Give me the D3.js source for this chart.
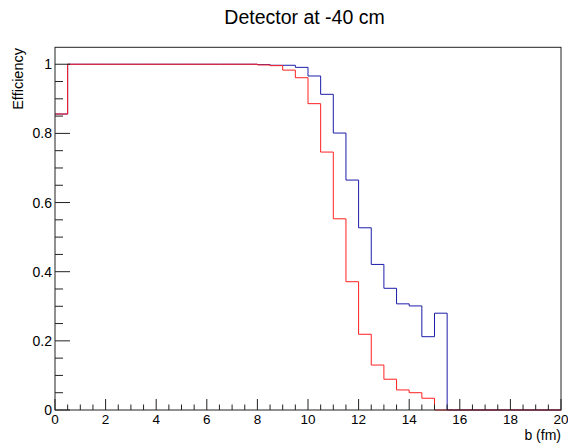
<!DOCTYPE html>
<html><head><meta charset="utf-8">
<script src="https://cdn.jsdelivr.net/npm/d3@7"></script>
<style>body{margin:0;background:#fff}svg{display:block}text{font-family:"Liberation Sans",Arial,sans-serif;fill:#000}</style>
</head><body>
<script>
// bin edges: 0..20 in steps of 0.5
const binLow = d3.range(0, 20, 0.5);
const blueVals = [0.856,1,1,1,1,1,1,1,1,1,1,1,1,1,1,1,0.999,0.997,0.997,0.991,0.966,0.913,0.801,0.665,0.527,0.421,0.352,0.307,0.301,0.212,0.280,0,0,0,0,0,0,0,0,0];
const redVals  = [0.856,1,1,1,1,1,1,1,1,1,1,1,1,1,1,1,0.998,0.996,0.983,0.961,0.886,0.746,0.553,0.371,0.219,0.130,0.089,0.058,0.050,0.034,0,0,0,0,0,0,0,0,0,0];
const xTicks = [0,2,4,6,8,10,12,14,16,18,20];
const yTicks = [0,0.2,0.4,0.6,0.8,1];
const title = "Detector at -40 cm";

const W=568,H=443;
const svg=d3.select("body").append("svg").attr("width",W).attr("height",H);
const L=55,R=561,T=47.3,B=410;
const x=d3.scaleLinear().domain([0,20]).range([L,R]);
const y=d3.scaleLinear().domain([0,1.049]).range([B,T]);

// histograms
const line=d3.line().x(d=>x(d[0])).y(d=>y(d[1])).curve(d3.curveStepAfter);
function draw(vals,color){
  const pts=binLow.map((b,i)=>[b,vals[i]]);
  pts.push([20,vals[vals.length-1]]);
  svg.append("path").attr("d",line(pts)).attr("fill","none").attr("stroke",color).attr("stroke-width",1);
}
draw(blueVals,"#1c1ca8");
draw(redVals,"#ff2020");

// frame
svg.append("rect").attr("x",L).attr("y",T).attr("width",R-L).attr("height",B-T)
  .attr("fill","none").attr("stroke","#222").attr("stroke-width",1);

// x axis ticks
const gx=svg.append("g").attr("transform",`translate(0,${B})`);
d3.range(0,20.01,0.5).forEach(v=>{
  const major = Math.abs(v/2-Math.round(v/2))<1e-6;
  gx.append("line").attr("x1",x(v)).attr("x2",x(v)).attr("y1",0).attr("y2",major?-11:-5.5)
    .attr("stroke","#222").attr("stroke-width",1);
});
xTicks.forEach(v=>{
  gx.append("text").attr("x",x(v)).attr("y",13.5).attr("text-anchor","middle").attr("font-size",13.5).text(v);
});
// y axis ticks
const gy=svg.append("g").attr("transform",`translate(${L},0)`);
d3.range(0,1.001,0.05).forEach(v=>{
  const major = Math.abs(v/0.2-Math.round(v/0.2))<1e-6;
  gy.append("line").attr("x1",0).attr("x2",major?15:8).attr("y1",y(v)).attr("y2",y(v))
    .attr("stroke","#222").attr("stroke-width",1);
});
yTicks.forEach(v=>{
  gy.append("text").attr("x",-3).attr("y",y(v)+5).attr("text-anchor","end").attr("font-size",14).text(v);
});

svg.append("text").attr("x",304.5).attr("y",24).attr("text-anchor","middle").attr("font-size",19.5).text(title);
svg.append("text").attr("transform","translate(23,48) rotate(-90)").attr("text-anchor","end").attr("font-size",14.5).text("Efficiency");
svg.append("text").attr("x",561).attr("y",440).attr("text-anchor","end").attr("font-size",14).text("b (fm)");
</script>
</body></html>
